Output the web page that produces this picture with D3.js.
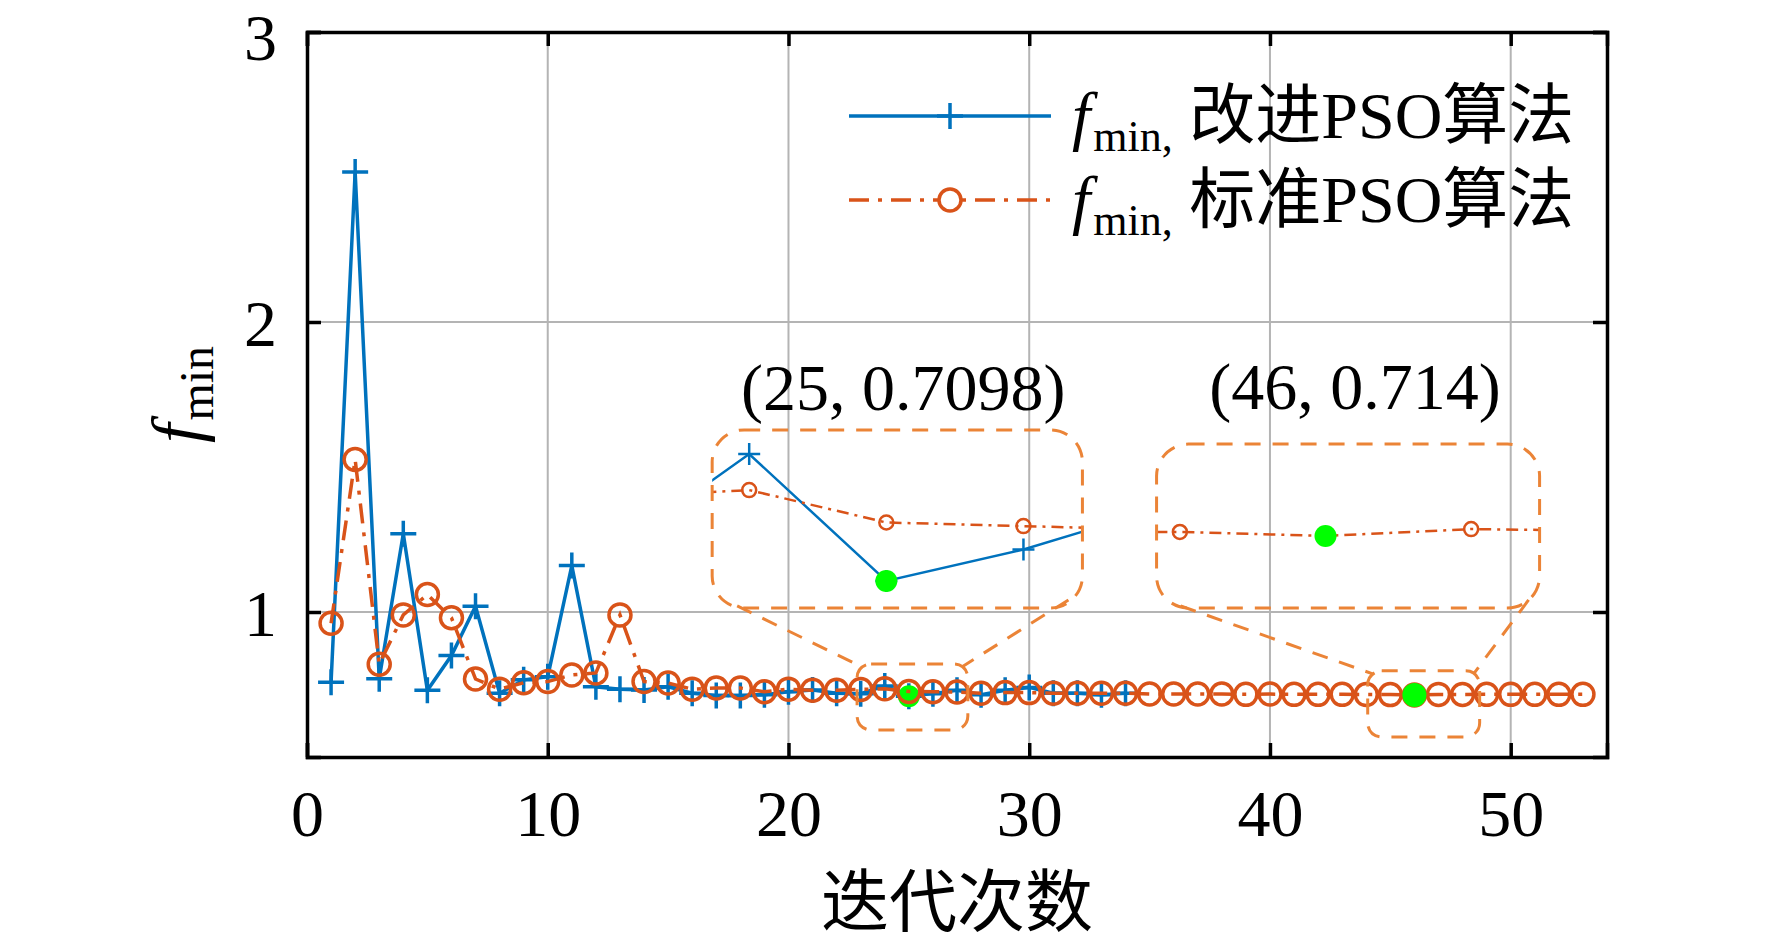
<!DOCTYPE html>
<html>
<head>
<meta charset="utf-8">
<script src="https://cdn.jsdelivr.net/npm/d3@7"></script>
<style>
  body { margin: 0; background: #fff; }
  svg { display: block; }
  text { font-family: "Liberation Serif", "Noto Sans CJK SC", serif; fill: #000; }
</style>
</head>
<body>
<div id="chart"></div>
<script>
// iteration number = index + 1
const improvedPso = [0.758, 2.517, 0.77, 1.27, 0.73, 0.85, 1.02, 0.72, 0.766, 0.777,
    1.16, 0.742, 0.734, 0.731, 0.742, 0.72, 0.712, 0.712, 0.715, 0.725,
    0.731, 0.72, 0.718, 0.745, 0.7098, 0.7185, 0.73, 0.715, 0.73, 0.74,
    0.72, 0.72, 0.715, 0.72];
const standardPso = [0.961, 1.526, 0.82, 0.99, 1.06, 0.98, 0.769, 0.734, 0.756, 0.76,
    0.783, 0.79, 0.99, 0.76, 0.755, 0.734, 0.738, 0.738, 0.725, 0.734,
    0.73, 0.73, 0.733, 0.735, 0.726, 0.725, 0.724, 0.72, 0.722, 0.722,
    0.72, 0.72, 0.72, 0.72, 0.717, 0.717, 0.717, 0.717, 0.716, 0.717,
    0.716, 0.716, 0.716, 0.7152, 0.7151, 0.714, 0.7159, 0.7154, 0.716, 0.716,
    0.716, 0.716, 0.716];
const xTicks = [0, 10, 20, 30, 40, 50];
const yTicks = [1, 2, 3];
const minima = [
    {x: 25, y: 0.7098, label: '(25, 0.7098)'},
    {x: 46, y: 0.714, label: '(46, 0.714)'}
];
const legendLabels = ['改进PSO算法', '标准PSO算法'];

const width = 1772, height = 945;
const margin = {top: 32, right: 165, bottom: 188, left: 307};

const BLUE = '#0072BD', ORANGE = '#D95319', BOXCOL = '#EB8437', GREEN = '#00FF00';

const svg = d3.select('#chart').append('svg')
    .attr('width', width)
    .attr('height', height);

const x = d3.scaleLinear().domain([0, 54]).range([margin.left, width - margin.right]);
const y = d3.scaleLinear().domain([0.5, 3]).range([height - margin.bottom, margin.top]);

const toPoints = vals => vals.map((v, i) => ({x: i + 1, y: v}));
const bluePts = toPoints(improvedPso);
const orangePts = toPoints(standardPso);

// grid
svg.append('g').selectAll('line.gx')
    .data(xTicks.filter(d => d > 0))
    .join('line')
    .attr('x1', d => x(d)).attr('x2', d => x(d))
    .attr('y1', y.range()[0]).attr('y2', y.range()[1])
    .attr('stroke', '#b4b4b4').attr('stroke-width', 2);
svg.append('g').selectAll('line.gy')
    .data(yTicks)
    .join('line')
    .attr('y1', d => y(d)).attr('y2', d => y(d))
    .attr('x1', x.range()[0]).attr('x2', x.range()[1])
    .attr('stroke', '#b4b4b4').attr('stroke-width', 2);

// axes (ticks inward, box on)
const tickLen = 14;
const xAxis = svg.append('g')
    .attr('transform', `translate(0,${y.range()[0]})`)
    .call(d3.axisBottom(x).tickValues(xTicks).tickFormat(d3.format('d')).tickSize(-tickLen).tickPadding(tickLen + 18));
const yAxis = svg.append('g')
    .attr('transform', `translate(${x.range()[0]},0)`)
    .call(d3.axisLeft(y).tickValues(yTicks).tickFormat(d3.format('d')).tickSize(-tickLen).tickPadding(tickLen + 16));
svg.append('g')
    .attr('transform', `translate(0,${y.range()[1]})`)
    .call(d3.axisTop(x).tickValues(xTicks).tickSize(-tickLen).tickFormat(''));
svg.append('g')
    .attr('transform', `translate(${x.range()[1]},0)`)
    .call(d3.axisRight(y).tickValues(yTicks).tickSize(-tickLen).tickFormat(''));
svg.selectAll('.domain').attr('stroke', '#000').attr('stroke-width', 3.5);
svg.selectAll('.tick line').attr('stroke', '#000').attr('stroke-width', 3.5);
svg.selectAll('.tick text')
    .style('font-family', '"Liberation Serif", serif')
    .style('font-size', '66px')
    .attr('fill', '#000');
// keep the top label inside the picture
yAxis.selectAll('.tick text').attr('dy', d => d === 3 ? '0.42em' : '0.35em');

// marker helpers
const plusPath = s => `M${-s},0H${s}M0,${-s}V${s}`;

function drawSeries(g, xs, ys, opts) {
    const line = d3.line().x(d => xs(d.x)).y(d => ys(d.y));
    g.append('path')
        .datum(opts.pts)
        .attr('d', line)
        .attr('fill', 'none')
        .attr('stroke', opts.color)
        .attr('stroke-width', opts.lw)
        .attr('stroke-dasharray', opts.dash || null);
    if (opts.marker === 'plus') {
        g.append('g').selectAll('path')
            .data(opts.pts)
            .join('path')
            .attr('d', plusPath(opts.ms))
            .attr('transform', d => `translate(${xs(d.x)},${ys(d.y)})`)
            .attr('fill', 'none')
            .attr('stroke', opts.color)
            .attr('stroke-width', opts.mlw);
    } else {
        g.append('g').selectAll('circle')
            .data(opts.pts)
            .join('circle')
            .attr('cx', d => xs(d.x)).attr('cy', d => ys(d.y))
            .attr('r', opts.ms)
            .attr('fill', 'none')
            .attr('stroke', opts.color)
            .attr('stroke-width', opts.mlw);
    }
}

const main = svg.append('g');
drawSeries(main, x, y, {pts: bluePts, color: BLUE, lw: 3.5, marker: 'plus', ms: 13, mlw: 3.5});
main.append('circle')
    .attr('cx', x(minima[0].x)).attr('cy', y(minima[0].y)).attr('r', 11).attr('fill', GREEN);
drawSeries(main, x, y, {pts: orangePts, color: ORANGE, lw: 3.5, marker: 'circle', ms: 11, mlw: 3.5, dash: '20,9,4,9'});
main.append('circle')
    .attr('cx', x(minima[1].x)).attr('cy', y(minima[1].y)).attr('r', 12).attr('fill', GREEN);

// zoom insets: box in main data coords, view = zoomed window
const insets = [
    {box: {x0: 16.83, x1: 32.21, y0: 1.014, y1: 1.628}, view: {x0: 23.73, x1: 26.43, y0: 0.7023, y1: 0.7517},
     src: {x0: 22.85, x1: 27.45, y0: 0.593, y1: 0.821}, series: ['blue', 'orange'], min: minima[0],
     conn: [[25, 5], [-14, -6]]},
    {box: {x0: 35.29, x1: 51.2, y0: 1.014, y1: 1.579}, view: {x0: 44.84, x1: 47.47, y0: 0.694, y1: 0.7395},
     src: {x0: 44.06, x1: 48.71, y0: 0.569, y1: 0.797}, series: ['orange'], min: minima[1],
     conn: [[24, 5], [-11, -6]]}
];

const dashBox = '16,12';
insets.forEach((ins, k) => {
    const bx0 = x(ins.box.x0), bx1 = x(ins.box.x1), by0 = y(ins.box.y1), by1 = y(ins.box.y0);
    const sx0 = x(ins.src.x0), sx1 = x(ins.src.x1), sy0 = y(ins.src.y1), sy1 = y(ins.src.y0);
    const ix = d3.scaleLinear().domain([ins.view.x0, ins.view.x1]).range([bx0, bx1]);
    const iy = d3.scaleLinear().domain([ins.view.y0, ins.view.y1]).range([by1, by0]);

    svg.append('clipPath').attr('id', 'clip' + k)
        .append('rect').attr('x', bx0).attr('y', by0).attr('width', bx1 - bx0).attr('height', by1 - by0);
    const g = svg.append('g').attr('clip-path', `url(#clip${k})`);
    if (ins.series.includes('blue'))
        drawSeries(g, ix, iy, {pts: bluePts, color: BLUE, lw: 2.5, marker: 'plus', ms: 11, mlw: 2.5});
    drawSeries(g, ix, iy, {pts: orangePts, color: ORANGE, lw: 2.5, marker: 'circle', ms: 7, mlw: 2.5, dash: '12,6,3,6'});
    g.append('circle')
        .attr('cx', ix(ins.min.x)).attr('cy', iy(ins.min.y)).attr('r', 11).attr('fill', GREEN);

    svg.append('rect')
        .attr('x', bx0).attr('y', by0).attr('width', bx1 - bx0).attr('height', by1 - by0)
        .attr('rx', 32).attr('ry', 32)
        .attr('fill', 'none').attr('stroke', BOXCOL).attr('stroke-width', 3).attr('stroke-dasharray', dashBox);
    svg.append('rect')
        .attr('x', sx0).attr('y', sy0).attr('width', sx1 - sx0).attr('height', sy1 - sy0)
        .attr('rx', 14).attr('ry', 14)
        .attr('fill', 'none').attr('stroke', BOXCOL).attr('stroke-width', 3).attr('stroke-dasharray', dashBox);
    // connectors
    svg.append('line')
        .attr('x1', bx0 + ins.conn[0][0]).attr('y1', by1 - 2)
        .attr('x2', sx0 + ins.conn[0][1]).attr('y2', sy0 + 3)
        .attr('stroke', BOXCOL).attr('stroke-width', 3).attr('stroke-dasharray', dashBox);
    svg.append('line')
        .attr('x1', bx1 + ins.conn[1][0]).attr('y1', by1 - 8)
        .attr('x2', sx1 + ins.conn[1][1]).attr('y2', sy0 + 3)
        .attr('stroke', BOXCOL).attr('stroke-width', 3).attr('stroke-dasharray', dashBox);

    svg.append('text')
        .attr('x', (bx0 + bx1) / 2 + (k === 0 ? 6 : 7))
        .attr('y', by0 - (k === 0 ? 20 : 35))
        .attr('text-anchor', 'middle')
        .style('font-size', '66px')
        .text(ins.min.label);
});

// legend
const legend = svg.append('g');
const legendRows = [
    {label: legendLabels[0], color: BLUE, marker: 'plus', dash: null, y: 116},
    {label: legendLabels[1], color: ORANGE, marker: 'circle', dash: '20,9,4,9', y: 200}
];
legendRows.forEach(r => {
    legend.append('line')
        .attr('x1', 849).attr('x2', 1051).attr('y1', r.y).attr('y2', r.y)
        .attr('stroke', r.color).attr('stroke-width', 3.5).attr('stroke-dasharray', r.dash);
    if (r.marker === 'plus')
        legend.append('path').attr('d', plusPath(13)).attr('transform', `translate(950,${r.y})`)
            .attr('fill', 'none').attr('stroke', r.color).attr('stroke-width', 3.5);
    else
        legend.append('circle').attr('cx', 950).attr('cy', r.y).attr('r', 11)
            .attr('fill', '#fff').attr('stroke', r.color).attr('stroke-width', 3.5);
    const t = legend.append('text').attr('x', 1072).attr('y', r.y + 22).style('font-size', '66px');
    t.append('tspan').style('font-style', 'italic').text('f');
    t.append('tspan').attr('dx', 3).attr('dy', 13).style('font-size', '44px').text('min,');
    t.append('tspan').attr('dy', -13).text(' ' + r.label);
});

// axis labels
svg.append('text')
    .attr('x', (x.range()[0] + x.range()[1]) / 2)
    .attr('y', 926)
    .attr('text-anchor', 'middle')
    .style('font-size', '68px')
    .text('迭代次数');

const yl = svg.append('text')
    .attr('transform', `translate(200,${(y.range()[0] + y.range()[1]) / 2}) rotate(-90)`)
    .attr('text-anchor', 'middle')
    .style('font-size', '70px');
yl.append('tspan').style('font-style', 'italic').text('f');
yl.append('tspan').attr('dx', 3).attr('dy', 13).style('font-size', '48px').text('min');
</script>
</body>
</html>
